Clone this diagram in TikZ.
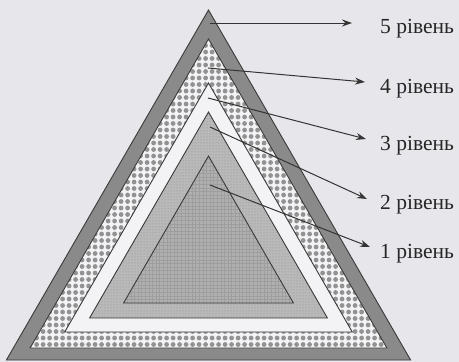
\documentclass[tikz,border=0pt]{standalone}
\usepackage{fontspec}
\setmainfont{Liberation Serif}
\usetikzlibrary{arrows.meta,patterns}
\definecolor{bg}{HTML}{E7E7EB}
\definecolor{band}{HTML}{8A8A8A}
\definecolor{lite}{HTML}{F3F3F5}
\definecolor{dotc}{HTML}{929292}
\definecolor{midg}{HTML}{B9B9B9}
\definecolor{inng}{HTML}{B0B0B0}
\definecolor{edge}{HTML}{3A3A3A}
\tikzset{
  outline/.style={draw=edge,line width=0.9pt,line join=miter},
  pointer/.style={draw=edge!90!black,line width=1pt,-{Stealth[length=10pt,width=7pt]}},
  lvl/.style={anchor=west,inner sep=0pt,font=\fontsize{21.5}{24}\selectfont,text=black!85}
}
\begin{document}
\begin{tikzpicture}[x=1pt,y=-1pt]
\useasboundingbox (0,0) rectangle (459,362);
\fill[bg] (0,0) rectangle (459,362);
% triangles
\def\TA{(208.5,10) -- (6.4,360) -- (410.6,360) -- cycle}
\def\TB{(208.5,39) -- (30.1,348) -- (386.9,348) -- cycle}
\def\TC{(208.5,83) -- (64.7,332) -- (352.3,332) -- cycle}
\def\TD{(208.5,112) -- (89.6,318) -- (327.4,318) -- cycle}
\def\TE{(208.5,156) -- (123.6,303) -- (293.4,303) -- cycle}
\fill[band] \TA;
\fill[lite] \TB;
\begin{scope}
  \clip \TB;
  \foreach \i in {0,...,56} {
    \foreach \j in {0,...,48} {
      \fill[dotc] (30.1+\i*6.5, 344.5-\j*6.5) circle (2.4);
    }
  }
\end{scope}
\fill[lite] \TC;
\fill[midg] \TD;
\fill[pattern=dots,pattern color=black!45] \TD;
\fill[inng] \TE;
\begin{scope}
  \clip \TE;
  \foreach \k in {0,...,50} {
    \draw[black!38,line width=0.4pt] (120+\k*3.6,150) -- (120+\k*3.6,310);
    \draw[black!38,line width=0.4pt] (120,303-\k*3.6) -- (300,303-\k*3.6);
  }
\end{scope}
\draw[outline] \TA;
\draw[outline] \TB;
\draw[outline] \TC;
\draw[outline] \TD;
\draw[outline] \TE;
% pointers
\coordinate (s5) at (210,23);
\coordinate (e5) at (352,23);
\coordinate (s4) at (208,68);
\coordinate (e4) at (365,82);
\coordinate (s3) at (208,98);
\coordinate (e3) at (366,139);
\coordinate (s2) at (210,127);
\coordinate (e2) at (367,199);
\coordinate (s1) at (210,185);
\coordinate (e1) at (370,247);
\draw[pointer] (s5) -- (e5);
\draw[pointer] (s4) -- (e4);
\draw[pointer] (s3) -- (e3);
\draw[pointer] (s2) -- (e2);
\draw[pointer] (s1) -- (e1);
\node[lvl] (l5) at (380,29) {5 рівень};
\node[lvl] (l4) at (380,89) {4 рівень};
\node[lvl] (l3) at (380,146) {3 рівень};
\node[lvl] (l2) at (380,205) {2 рівень};
\node[lvl] (l1) at (380,254) {1 рівень};
\end{tikzpicture}
\end{document}
